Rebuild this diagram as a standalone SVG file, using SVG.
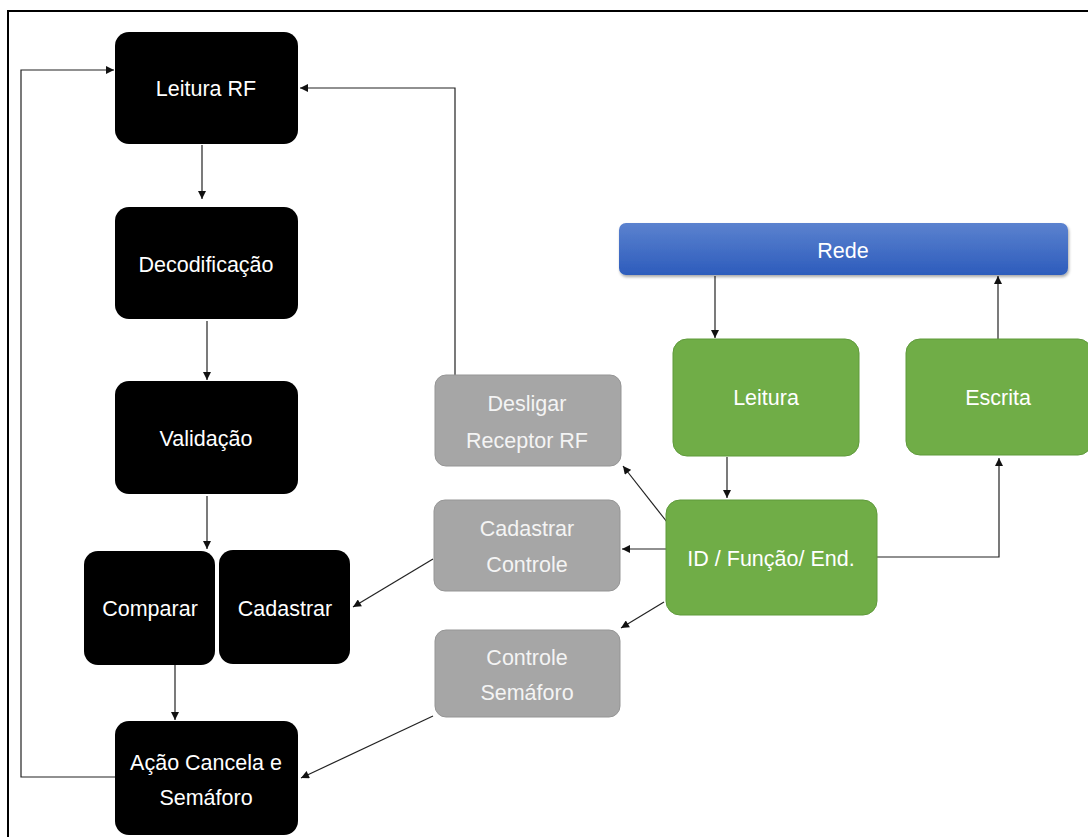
<svg xmlns="http://www.w3.org/2000/svg" width="1088" height="837" viewBox="0 0 1088 837">
<defs>
<linearGradient id="blueGrad" x1="0" y1="0" x2="0" y2="1">
<stop offset="0" stop-color="#5b82cf"/>
<stop offset="1" stop-color="#2d5cbc"/>
</linearGradient>
<filter id="shadow" x="-5%" y="-20%" width="110%" height="160%">
<feDropShadow dx="1" dy="2" stdDeviation="1.5" flood-color="#000" flood-opacity="0.35"/>
</filter>
<marker id="arrow" viewBox="0 0 10 10" refX="10" refY="5" markerWidth="9" markerHeight="8" markerUnits="userSpaceOnUse" orient="auto">
<path d="M0,0 L10,5 L0,10 z" fill="#111"/>
</marker>
</defs>
<style>
.black{fill:#000;}
.gray{fill:#a6a6a6;stroke:#959595;stroke-width:1;}
.green{fill:#70ad47;stroke:#5f9a3b;stroke-width:1;}
.lbl{font-family:"Liberation Sans",Arial,sans-serif;font-size:21.5px;fill:#fff;text-anchor:middle;}
.glbl{font-family:"Liberation Sans",Arial,sans-serif;font-size:21.5px;fill:#f4f4f4;text-anchor:middle;}
.conn{fill:none;stroke:#222;stroke-width:1.2;}
</style>
<rect width="1088" height="837" fill="#fff"/>
<rect x="8" y="11" width="1100" height="840" fill="none" stroke="#000" stroke-width="2"/>

<g id="connectors">
<path class="conn" d="M202,145 L202,199" marker-end="url(#arrow)"/>
<path class="conn" d="M207,321 L207,380" marker-end="url(#arrow)"/>
<path class="conn" d="M207,496 L207,549" marker-end="url(#arrow)"/>
<path class="conn" d="M175,665 L175,720" marker-end="url(#arrow)"/>
<path class="conn" d="M115,777 L21,777 L21,70 L114,70" marker-end="url(#arrow)"/>
<path class="conn" d="M455,375 L455,88 L300,88" marker-end="url(#arrow)"/>
<path class="conn" d="M715,276 L715,338" marker-end="url(#arrow)"/>
<path class="conn" d="M998,339 L998,276" marker-end="url(#arrow)"/>
<path class="conn" d="M727,457 L727,498" marker-end="url(#arrow)"/>
<path class="conn" d="M877,557 L999,557 L999,458" marker-end="url(#arrow)"/>
<path class="conn" d="M667,522 L623,466" marker-end="url(#arrow)"/>
<path class="conn" d="M666,549 L622,549" marker-end="url(#arrow)"/>
<path class="conn" d="M664,602 L621,628" marker-end="url(#arrow)"/>
<path class="conn" d="M433,559 L353,607" marker-end="url(#arrow)"/>
<path class="conn" d="M433,716 L301,778" marker-end="url(#arrow)"/>
</g>

<g id="node-leitura-rf">
<rect class="black" x="115" y="32" width="183" height="112" rx="14"/>
<text class="lbl" x="206" y="96">Leitura RF</text>
</g>
<g id="node-decodificacao">
<rect class="black" x="115" y="207" width="183" height="112" rx="14"/>
<text class="lbl" x="206" y="272">Decodificação</text>
</g>
<g id="node-validacao">
<rect class="black" x="115" y="381" width="183" height="113" rx="14"/>
<text class="lbl" x="206" y="446">Validação</text>
</g>
<g id="node-comparar">
<rect class="black" x="84" y="551" width="131" height="114" rx="14"/>
<text class="lbl" x="150" y="616">Comparar</text>
</g>
<g id="node-cadastrar">
<rect class="black" x="219" y="550" width="131" height="114" rx="14"/>
<text class="lbl" x="285" y="616">Cadastrar</text>
</g>
<g id="node-acao">
<rect class="black" x="115" y="721" width="183" height="114" rx="14"/>
<text class="lbl" x="206" y="770">Ação Cancela e</text>
<text class="lbl" x="206" y="805">Semáforo</text>
</g>

<g id="node-desligar">
<rect class="gray" x="435" y="375" width="186" height="91" rx="11"/>
<text class="glbl" x="527" y="411">Desligar</text>
<text class="glbl" x="527" y="448">Receptor RF</text>
</g>
<g id="node-cadastrar-controle">
<rect class="gray" x="434" y="500" width="186" height="91" rx="11"/>
<text class="glbl" x="527" y="536">Cadastrar</text>
<text class="glbl" x="527" y="572">Controle</text>
</g>
<g id="node-controle-semaforo">
<rect class="gray" x="435" y="630" width="185" height="87" rx="11"/>
<text class="glbl" x="527" y="665">Controle</text>
<text class="glbl" x="527" y="700">Semáforo</text>
</g>

<g id="node-rede">
<rect x="619" y="223" width="449" height="52" rx="7" fill="url(#blueGrad)" filter="url(#shadow)"/>
<text class="lbl" x="843" y="258">Rede</text>
</g>
<g id="node-leitura">
<rect class="green" x="673" y="339" width="186" height="117" rx="14"/>
<text class="lbl" x="766" y="405">Leitura</text>
</g>
<g id="node-escrita">
<rect class="green" x="906" y="339" width="186" height="116" rx="14"/>
<text class="lbl" x="998" y="405">Escrita</text>
</g>
<g id="node-id">
<rect class="green" x="666" y="500" width="211" height="115" rx="14"/>
<text class="lbl" x="771" y="566">ID / Função/ End.</text>
</g>
</svg>
